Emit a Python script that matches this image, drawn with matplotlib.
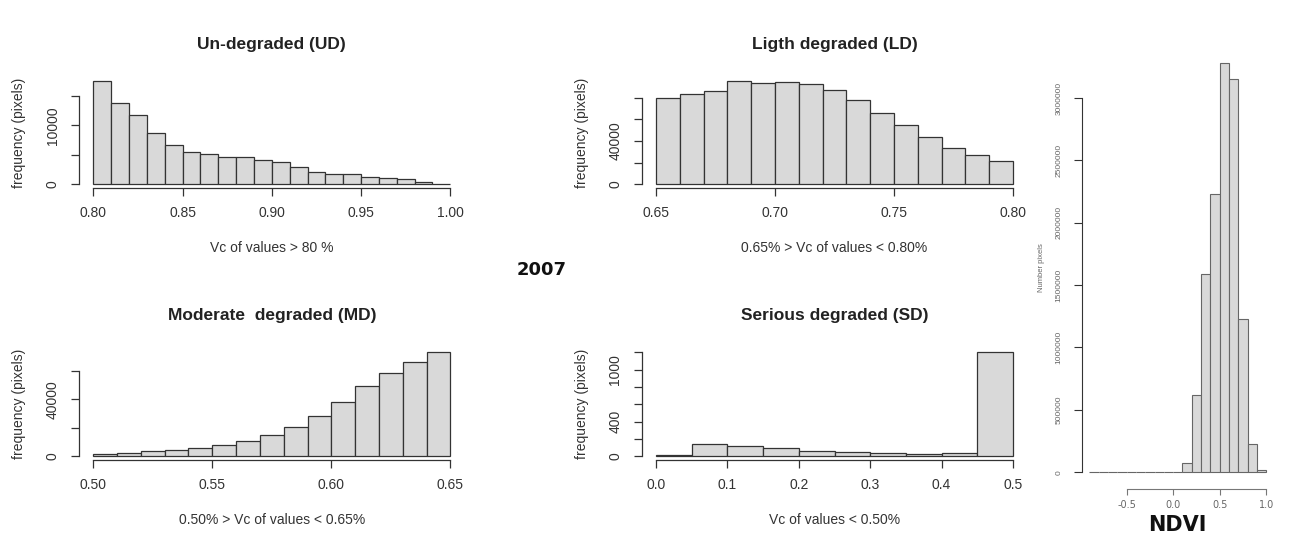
import numpy as np
import matplotlib
matplotlib.use('Agg')
import matplotlib.pyplot as plt

plt.rcParams['font.family'] = ['Liberation Sans', 'DejaVu Sans']

# histogram counts
ud_edges = np.round(np.arange(0.80, 1.0001, 0.01), 2)
ud_counts = [17600, 13900, 11750, 8700, 6750, 5400, 5100, 4700, 4550, 4200,
             3750, 3000, 2150, 1650, 1650, 1200, 1080, 850, 290, 30]

ld_edges = np.round(np.arange(0.65, 0.8001, 0.01), 2)
ld_counts = [79700, 83700, 86500, 95700, 93800, 94800, 92300, 87100, 78200,
             66200, 54500, 43700, 33500, 27400, 21500]

md_edges = np.round(np.arange(0.50, 0.6501, 0.01), 2)
md_counts = [1650, 2350, 3750, 4450, 5900, 8000, 10350, 15050, 20450, 28250,
             37900, 49400, 58800, 66350, 73400]

sd_edges = np.round(np.arange(0.0, 0.5001, 0.05), 2)
sd_counts = [12, 139, 120, 97, 62, 50, 39, 19, 31, 1201]

ndvi_edges = np.round(np.arange(-0.9, 1.0001, 0.1), 1)
ndvi_counts = [200, 200, 200, 200, 200, 200, 200, 200, 300,
               5000, 75000, 622000, 1588000, 2230000, 3282000, 3151000,
               1228000, 226000, 17000]

W, H = 1293, 545
TXT = '#222222'


def rect(l, t, r, b):
    return [l / W, 1 - b / H, (r - l) / W, (b - t) / H]


def r_hist(ax, edges, counts, xticks, xlabels, yticks, ylabels, title, xlabel,
           fill='#d9d9d9', edge='#333333'):
    edges = np.asarray(edges)
    m = max(counts)
    ax.bar(edges[:-1], counts, width=np.diff(edges), align='edge',
           color=fill, edgecolor=edge, linewidth=0.9)
    span = edges[-1] - edges[0]
    ax.set_xlim(edges[0] - 0.04 * span, edges[-1] + 0.04 * span)
    ax.set_ylim(-0.04 * m, 1.04 * m)
    for s in ['top', 'right']:
        ax.spines[s].set_visible(False)
    ax.spines['left'].set_bounds(yticks[0], yticks[-1])
    ax.spines['bottom'].set_bounds(xticks[0], xticks[-1])
    for s in ['left', 'bottom']:
        ax.spines[s].set_color('#333333')
        ax.spines[s].set_linewidth(0.9)
    ax.set_xticks(xticks)
    ax.set_xticklabels(xlabels)
    ax.set_yticks(yticks)
    ax.set_yticklabels(ylabels, rotation=90, va='center')
    ax.tick_params(axis='both', direction='out', length=6, width=0.9,
                   color='#333333', labelcolor='#333333', labelsize=10)
    ax.tick_params(axis='x', pad=7)
    ax.tick_params(axis='y', pad=8)
    if title:
        ax.set_title(title, fontsize=12.5, fontweight='bold', color=TXT, pad=20)
    ax.set_xlabel(xlabel, fontsize=10, color='#333333', labelpad=15)
    ax.set_ylabel('frequency (pixels)', fontsize=10, color='#333333', labelpad=14)


fig = plt.figure(figsize=(W / 100, H / 100), dpi=100)

ax1 = fig.add_axes(rect(79, 76.7, 464.6, 188.3))
r_hist(ax1, ud_edges, ud_counts,
       [0.80, 0.85, 0.90, 0.95, 1.00], ['0.80', '0.85', '0.90', '0.95', '1.00'],
       [0, 5000, 10000, 15000], ['0', '', '10000', ''],
       'Un-degraded (UD)', 'Vc of values > 80 %')

ax2 = fig.add_axes(rect(641.7, 76.5, 1027.3, 188.3))
r_hist(ax2, ld_edges, ld_counts,
       [0.65, 0.70, 0.75, 0.80], ['0.65', '0.70', '0.75', '0.80'],
       [0, 20000, 40000, 60000, 80000], ['0', '', '40000', '', ''],
       'Ligth degraded (LD)', '0.65% > Vc of values < 0.80%')

ax3 = fig.add_axes(rect(79, 348, 464.6, 460.3))
r_hist(ax3, md_edges, md_counts,
       [0.50, 0.55, 0.60, 0.65], ['0.50', '0.55', '0.60', '0.65'],
       [0, 20000, 40000, 60000], ['0', '', '40000', ''],
       'Moderate  degraded (MD)', '0.50% > Vc of values < 0.65%')

ax4 = fig.add_axes(rect(641.7, 348, 1027.3, 460.3))
r_hist(ax4, sd_edges, sd_counts,
       [0.0, 0.1, 0.2, 0.3, 0.4, 0.5], ['0.0', '0.1', '0.2', '0.3', '0.4', '0.5'],
       [0, 200, 400, 600, 800, 1000, 1200], ['0', '', '400', '', '', '1000', ''],
       'Serious degraded (SD)', 'Vc of values < 0.50%')

# NDVI histogram on the right
ax5 = fig.add_axes(rect(1082.2, 46.5, 1273.4, 488.5))
m = max(ndvi_counts)
ax5.bar(ndvi_edges[:-1], ndvi_counts, width=np.diff(ndvi_edges), align='edge',
        color='#d9d9d9', edgecolor='#666666', linewidth=0.8)
ax5.set_xlim(-0.9 - 0.076, 1.0 + 0.076)
ax5.set_ylim(-0.04 * m, 1.04 * m)
for s in ['top', 'right']:
    ax5.spines[s].set_visible(False)
ax5.spines['left'].set_bounds(0, 3000000)
ax5.spines['bottom'].set_bounds(-0.5, 1.0)
ax5.spines['left'].set_color('#333333')
ax5.spines['bottom'].set_color('#777777')
ax5.set_xticks([-0.5, 0.0, 0.5, 1.0])
ax5.set_xticklabels(['-0.5', '0.0', '0.5', '1.0'], family='DejaVu Sans')
yt = [0, 500000, 1000000, 1500000, 2000000, 2500000, 3000000]
ax5.set_yticks(yt)
ax5.set_yticklabels([str(v) for v in yt], rotation=90, va='center')
ax5.tick_params(axis='x', length=4, width=0.8, color='#777777',
                labelsize=7, labelcolor='#666666', pad=4)
ax5.tick_params(axis='y', length=6, width=0.8, color='#333333',
                labelsize=6, labelcolor='#666666', pad=8)
ax5.set_xlabel('NDVI', family='DejaVu Sans', fontsize=15, fontweight='bold',
               color='#111111', labelpad=4)
ax5.set_ylabel('Number pixels', fontsize=5.5, color='#666666', labelpad=8)

fig.text(541.7 / W, 1 - 270 / H, '2007', family='DejaVu Sans', fontsize=13,
         fontweight='bold', color='#111111', ha='center', va='center')

fig.savefig('out.png', dpi=100, facecolor='white')
